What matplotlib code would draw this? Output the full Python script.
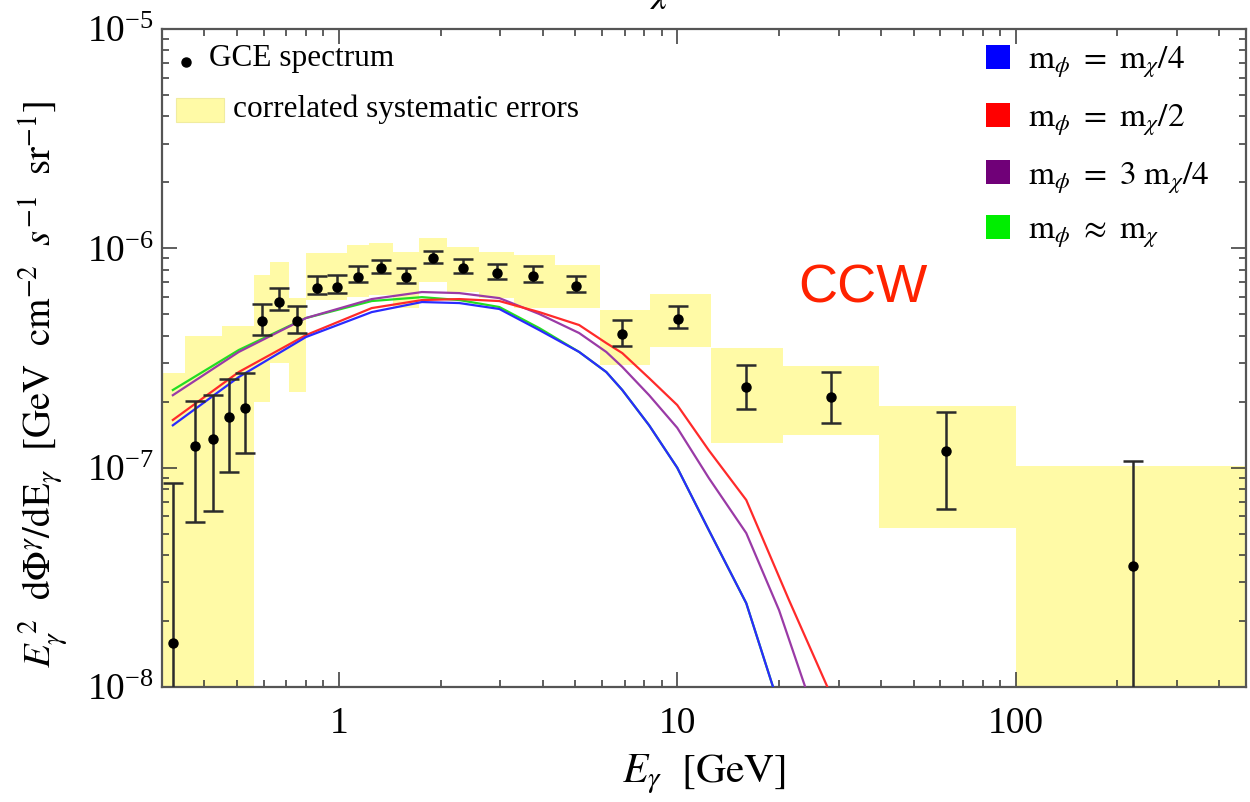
import matplotlib
matplotlib.use("Agg")
from matplotlib import pyplot as plt
from matplotlib.patches import Rectangle
from matplotlib.lines import Line2D
import matplotlib.ticker as mticker
import numpy as np

plt.rcParams['font.family'] = ['Liberation Serif', 'DejaVu Serif']
plt.rcParams['mathtext.fontset'] = 'stix'

# GCE spectrum (pontos com barras de erro)
E_pts = [0.323, 0.375, 0.424, 0.473, 0.527, 0.592, 0.665, 0.751, 0.861, 0.986, 1.14, 1.33,
         1.58, 1.90, 2.33, 2.94, 3.75, 5.03, 6.88, 10.07, 16.0, 28.4, 62.5, 222.0]
F_pts = [1.59e-8, 1.26e-7, 1.35e-7, 1.70e-7, 1.87e-7, 4.66e-7, 5.69e-7, 4.66e-7, 6.59e-7, 6.66e-7,
         7.40e-7, 8.13e-7, 7.40e-7, 9.03e-7, 8.13e-7, 7.72e-7, 7.47e-7, 6.73e-7, 4.07e-7, 4.76e-7,
         2.33e-7, 2.10e-7, 1.19e-7, 3.56e-8]
F_hi = [8.51e-8, 2.01e-7, 2.14e-7, 2.54e-7, 2.70e-7, 5.57e-7, 6.59e-7, 5.46e-7, 7.47e-7, 7.55e-7,
        8.30e-7, 8.85e-7, 8.13e-7, 9.72e-7, 8.94e-7, 8.48e-7, 8.30e-7, 7.47e-7, 4.71e-7, 5.46e-7,
        2.94e-7, 2.73e-7, 1.79e-7, 1.07e-7]
F_lo = [1e-9, 5.65e-8, 6.34e-8, 9.54e-8, 1.17e-7, 4.02e-7, 5.23e-7, 4.11e-7, 6.19e-7, 6.25e-7,
        7.02e-7, 7.72e-7, 6.95e-7, 8.57e-7, 7.72e-7, 7.24e-7, 7.02e-7, 6.32e-7, 3.58e-7, 4.33e-7,
        1.85e-7, 1.60e-7, 6.47e-8, 1e-9]

# erros sistematicos correlacionados (caixas amarelas)
bin_edges = [0.3, 0.35, 0.40, 0.45, 0.50, 0.56, 0.625, 0.71, 0.80, 0.92, 1.06, 1.23, 1.45,
             1.72, 2.09, 2.6, 3.3, 4.35, 5.9, 8.3, 12.6, 20.6, 39.6, 100, 500]
sys_hi = [2.70e-7, 3.98e-7, 3.98e-7, 4.42e-7, 4.42e-7, 7.55e-7, 8.66e-7, 5.93e-7, 9.52e-7, 9.52e-7,
          1.035e-6, 1.057e-6, 9.62e-7, 1.114e-6, 1.014e-6, 9.62e-7, 9.32e-7, 8.39e-7, 5.23e-7,
          6.19e-7, 3.51e-7, 2.91e-7, 1.91e-7, 1.02e-7]
sys_lo = [1e-9, 1e-9, 1e-9, 1e-9, 1e-9, 1.99e-7, 3.00e-7, 2.21e-7, 5.81e-7, 5.81e-7, 5.99e-7,
          6.12e-7, 5.34e-7, 7.02e-7, 6.32e-7, 5.93e-7, 5.34e-7, 5.34e-7, 2.94e-7, 3.55e-7,
          1.29e-7, 1.41e-7, 5.30e-8, 1e-9]

# curvas dos modelos
E_blue = [0.323, 0.506, 0.799, 1.25, 1.76, 2.27, 2.98, 3.91, 5.13, 6.17, 6.88, 8.26, 10.0, 12.4, 16.0, 19.2]
F_blue = [1.56e-7, 2.59e-7, 3.94e-7, 5.12e-7, 5.69e-7, 5.63e-7, 5.29e-7, 4.24e-7, 3.37e-7, 2.73e-7,
          2.26e-7, 1.56e-7, 1.0e-7, 5.19e-8, 2.41e-8, 1.0e-8]
E_green = [0.323, 0.506, 0.799, 1.25, 1.76, 2.27, 2.98, 3.91, 5.13, 6.17, 6.88, 8.26, 10.0, 12.4, 16.0, 19.2]
F_green = [2.26e-7, 3.44e-7, 4.81e-7, 5.75e-7, 5.99e-7, 5.81e-7, 5.40e-7, 4.33e-7, 3.37e-7, 2.73e-7,
           2.26e-7, 1.56e-7, 1.0e-7, 5.19e-8, 2.41e-8, 1.0e-8]
E_red = [0.323, 0.506, 0.799, 1.25, 1.76, 2.27, 2.98, 3.91, 5.13, 6.17, 6.88, 8.26, 10.0, 12.4, 16.0, 21.4, 27.8]
F_red = [1.65e-7, 2.73e-7, 4.02e-7, 5.34e-7, 5.81e-7, 5.87e-7, 5.75e-7, 5.12e-7, 4.47e-7, 3.70e-7,
         3.33e-7, 2.56e-7, 1.93e-7, 1.20e-7, 7.12e-8, 2.49e-8, 1.0e-8]
E_purple = [0.323, 0.506, 0.799, 1.25, 1.76, 2.27, 2.98, 3.91, 5.13, 6.17, 6.88, 8.26, 10.0, 12.4, 16.0, 20.0, 23.9]
F_purple = [2.14e-7, 3.37e-7, 4.81e-7, 5.87e-7, 6.32e-7, 6.25e-7, 5.93e-7, 5.02e-7, 4.11e-7, 3.37e-7,
            2.88e-7, 2.14e-7, 1.52e-7, 8.97e-8, 5.03e-8, 2.24e-8, 1.0e-8]

labels = [r'$\mathrm{m}_\phi\ =\ \mathrm{m}_\chi/4$', r'$\mathrm{m}_\phi\ =\ \mathrm{m}_\chi/2$',
          r'$\mathrm{m}_\phi\ =\ 3\ \mathrm{m}_\chi/4$', r'$\mathrm{m}_\phi\ \approx\ \mathrm{m}_\chi$']
colors = ['#0000ff', '#ff0000', '#700078', '#00ee00']

W, H = 1250, 802
fig = plt.figure(figsize=(12.5, 8.02), dpi=100)
ax = fig.add_axes([162 / W, 1 - 687 / H, 1084 / W, 658 / H])

# caixas amarelas
lo = np.r_[sys_lo, sys_lo[-1]]
hi = np.r_[sys_hi, sys_hi[-1]]
ax.fill_between(bin_edges, lo, hi, step='post', color='#fffaa6', linewidth=0, zorder=1)

# curvas
ax.plot(E_green, F_green, color='#22dd22', lw=1.6, zorder=3)
ax.plot(E_purple, F_purple, color='#9a3aa6', lw=1.6, zorder=3)
ax.plot(E_red, F_red, color='#ff2a2a', lw=1.6, zorder=3)
ax.plot(E_blue, F_blue, color='#2a2aff', lw=1.6, zorder=3)

# pontos
yerr = [np.array(F_pts) - np.array(F_lo), np.array(F_hi) - np.array(F_pts)]
ax.errorbar(E_pts, F_pts, yerr=yerr, fmt='o', color='black', ecolor='#2b2b2b', ms=6.5,
            elinewidth=1.8, capsize=7.5, capthick=1.8, zorder=4)

ax.set_xscale('log')
ax.set_yscale('log')
ax.set_xlim(0.3, 480)
ax.set_ylim(1e-8, 1e-5)

ax.xaxis.set_major_locator(mticker.FixedLocator([1, 10, 100]))
ax.xaxis.set_major_formatter(mticker.FixedFormatter(['1', '10', '100']))
ax.xaxis.set_minor_locator(mticker.LogLocator(base=10, subs=np.arange(2, 10), numticks=20))
ax.xaxis.set_minor_formatter(mticker.NullFormatter())
ax.yaxis.set_major_locator(mticker.LogLocator(base=10, numticks=10))
ax.yaxis.set_minor_locator(mticker.LogLocator(base=10, subs=np.arange(2, 10), numticks=20))
ax.yaxis.set_minor_formatter(mticker.NullFormatter())

for s in ax.spines.values():
    s.set_color('#555555')
    s.set_linewidth(1.6)
ax.tick_params(which='both', direction='in', top=True, right=True, color='#333333', width=1.1,
               labelsize=27)
ax.tick_params(which='major', length=11)
ax.tick_params(which='minor', length=5)
ax.tick_params(axis='x', pad=14)
ax.tick_params(axis='y', pad=6)

ax.set_xlabel(r'$E_\gamma\ \ [\mathrm{GeV}]$', fontsize=30)
ax.xaxis.set_label_coords(0.5, -0.1)
ax.set_ylabel(r'$E_\gamma^{\ 2}\ \ \mathrm{d\Phi}^\gamma/\mathrm{dE}_\gamma\ \ [\mathrm{GeV\ \ cm}^{-2}\ \ s^{-1}\ \ \mathrm{sr}^{-1}]$',
              fontsize=28)
ax.yaxis.set_label_coords(-0.085, 0.46)

# legenda da esquerda
tf = fig.transFigure
fig.add_artist(Line2D([186 / W], [1 - 62 / H], marker='o', color='black', ms=6.5, transform=tf))
fig.text(209 / W, 1 - 66 / H, 'GCE spectrum', fontsize=22.5, va='baseline')
fig.add_artist(Rectangle((176 / W, 1 - 122 / H), 48 / W, 24 / H, facecolor='#fffaa6',
                         edgecolor='#f0eca0', lw=0.8, transform=tf))
fig.text(233 / W, 1 - 117 / H, 'correlated systematic errors', fontsize=22.5, va='baseline')

# legenda da direita
rows = [57, 115, 172, 227]
for lab, c, yc in zip(labels, colors, rows):
    fig.add_artist(Rectangle((986 / W, 1 - (yc + 12) / H), 24 / W, 24 / H, facecolor=c,
                             edgecolor='none', transform=tf))
    fig.text(1028 / W, 1 - (yc + 12) / H, lab, fontsize=24, va='baseline')

fig.text(798 / W, 1 - 303 / H, 'CCW', fontsize=39, color='#ff2200', family='Liberation Sans',
         va='baseline')
fig.text(662 / W, 0.998, r'$\chi$', fontsize=26, ha='center', va='baseline')

fig.savefig('out.png', dpi=100)
